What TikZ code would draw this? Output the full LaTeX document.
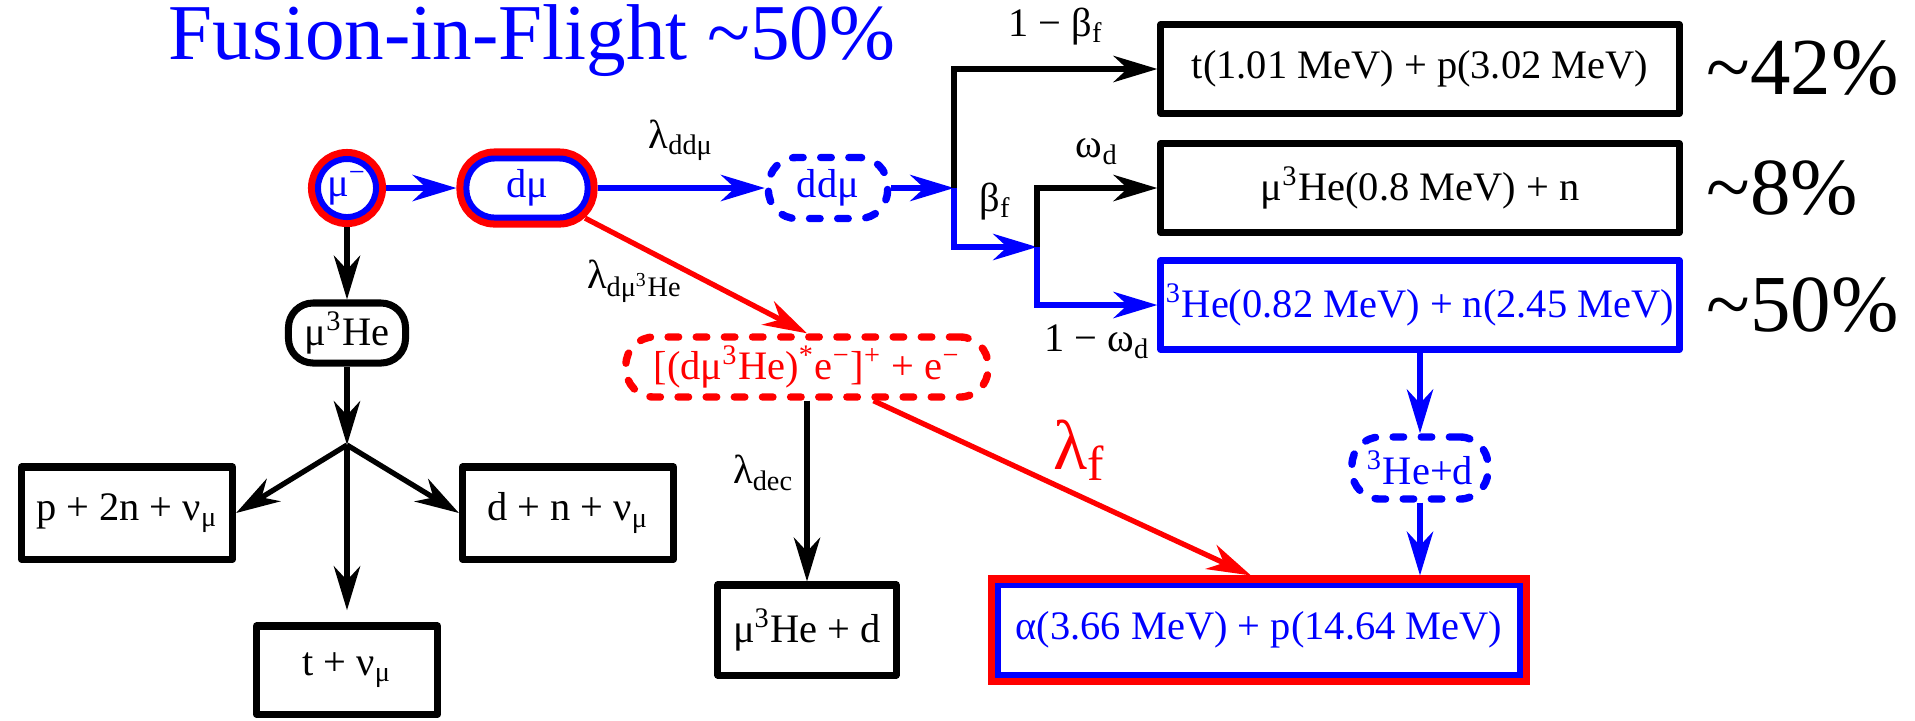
\documentclass[tikz,border=0pt]{standalone}
\usepackage{fontspec}
\setmainfont{Liberation Serif}
\usetikzlibrary{arrows.meta,calc}

\begin{document}
\begin{tikzpicture}[x=0.01cm, y=-0.01cm,
  font=\fontsize{11.5}{13}\selectfont,
  >={Stealth[length=12.5pt,width=7.5pt,inset=4pt]},
  fleche/.style={line width=1.5pt, ->},
  boite/.style={draw, line width=2pt, line join=round, inner sep=1pt},
  rougebleu/.style={draw=blue, text=blue, fill=white, line width=1.7pt, inner sep=1pt, outer sep=2.85pt,
    preaction={draw=red, line width=5.7pt}},
  tirets/.style={line width=2.1pt, line cap=round, dash pattern=on 3pt off 5pt, rounded corners=8pt, inner sep=1pt},
  etiq/.style={inner sep=0pt},
  pourcent/.style={font=\fontsize{23}{26}\selectfont, anchor=west, inner sep=0pt}]
\useasboundingbox (0,0) rectangle (1915,720);
%
% Titre
\node[text=blue, font=\fontsize{22.5}{26}\selectfont, anchor=base] (titre) at (532,59) {Fusion-in-Flight \textasciitilde50\%};
% Noeud mu
\node[rougebleu, circle, minimum size=0.58cm, inner sep=0pt] (mu) at (347,188) {μ\textsuperscript{−}};
% Noeud d mu
\node[rougebleu, rounded corners=8pt, minimum width=1.21cm, minimum height=0.59cm] (dmu) at (527,188) {dμ};
% Noeud dd mu
\node[tirets, draw=blue, text=blue, minimum width=1.19cm, minimum height=0.61cm] (ddmu) at (828,188) {ddμ};
% Noeud mu 3He
\node[boite, rounded corners=7pt, minimum width=1.17cm, minimum height=0.60cm] (muhe) at (347,333) {μ\textsuperscript{3}He};
\coordinate (embr) at (347,445);
% Captures
\node[boite, minimum width=2.11cm, minimum height=0.92cm] (p2n) at (127,513) {p + 2n + ν\textsubscript{μ}};
\node[boite, minimum width=2.11cm, minimum height=0.92cm] (dn) at (568,513) {d + n + ν\textsubscript{μ}};
\node[boite, minimum width=1.81cm, minimum height=0.88cm] (tnu) at (347,670) {t + ν\textsubscript{μ}};
% Noeud complexe
\node[tirets, draw=red, text=red, minimum width=3.62cm, minimum height=0.60cm] (cplx) at (807,367) {[(dμ\textsuperscript{3}He)\textsuperscript{*}e\textsuperscript{−}]\textsuperscript{+} + e\textsuperscript{−}};
\node[boite, minimum width=1.78cm, minimum height=0.90cm] (muhed) at (807,630) {μ\textsuperscript{3}He + d};
% Noeud alpha
\node[rougebleu, minimum width=5.22cm, minimum height=0.89cm] (alpha) at (1259,630) {α(3.66 MeV) + p(14.64 MeV)};
\node[tirets, draw=blue, text=blue, minimum width=1.36cm, minimum height=0.62cm] (hed) at (1420,468) {\textsuperscript{3}He+d};
% Voies
\node[boite, minimum width=5.18cm, minimum height=0.89cm] (tp) at (1420,69) {t(1.01 MeV) + p(3.02 MeV)};
\node[boite, minimum width=5.18cm, minimum height=0.89cm] (mun) at (1420,188) {μ\textsuperscript{3}He(0.8 MeV) + n};
\node[boite, draw=blue, text=blue, minimum width=5.18cm, minimum height=0.89cm] (hen) at (1420,305) {\textsuperscript{3}He(0.82 MeV) + n(2.45 MeV)};
\node[pourcent] (p42) at (1706,68) {\textasciitilde42\%};
\node[pourcent] (p8) at (1706,188) {\textasciitilde8\%};
\node[pourcent] (p50) at (1706,305) {\textasciitilde50\%};
\coordinate (j1) at (954,188);
\coordinate (j2) at (1037,247);
%
%Fleches bleues
\draw[fleche, blue] (mu) -- (dmu);
\draw[fleche, blue] (dmu) -- node[etiq, above=7pt, black] {λ\textsubscript{ddμ}} (ddmu);
\draw[fleche, blue] (ddmu) -- (j1);
\draw[fleche] (j1) |- node[etiq, pos=0.75, above=6pt] {1 − β\textsubscript{f}} (tp);
\draw[fleche, blue] (j1) |- node[etiq, pos=0.75, above=7pt, black] {β\textsubscript{f}} (j2);
\draw[fleche] (j2) |- node[etiq, pos=0.75, above=6pt] {ω\textsubscript{d}} (mun);
\draw[fleche, blue] (j2) |- node[etiq, pos=0.75, below=5pt, black] {1 − ω\textsubscript{d}} (hen);
\draw[fleche, blue] (hen) -- (hed);
\draw[fleche, blue] (hed) -- (hed |- alpha.north);
%Fleches noires
\draw[fleche] (mu) -- (muhe);
\draw[fleche] (muhe) -- (embr);
\draw[fleche] (embr) -- (p2n.east);
\draw[fleche] (embr) -- (dn.west);
\draw[fleche, shorten >=3.5pt] (embr) -- (tnu);
\draw[fleche] (cplx) -- node[etiq, pos=0.4, left=3pt] {λ\textsubscript{dec}} (muhed);
%Fleches rouges
\draw[fleche, red, shorten <=-4pt] (dmu) -- node[etiq, pos=0.3, anchor=north east, xshift=7pt, black] {λ\textsubscript{dμ\textsuperscript{3}He}} (cplx.north);
\draw[fleche, red] ($(cplx.south)!0.36!(cplx.south east)$) -- node[etiq, pos=0.47, anchor=south west, font=\fontsize{20}{22}\selectfont] {λ\textsubscript{f}} ($(alpha.north)+(-8,0)$);
\end{tikzpicture}
\end{document}
